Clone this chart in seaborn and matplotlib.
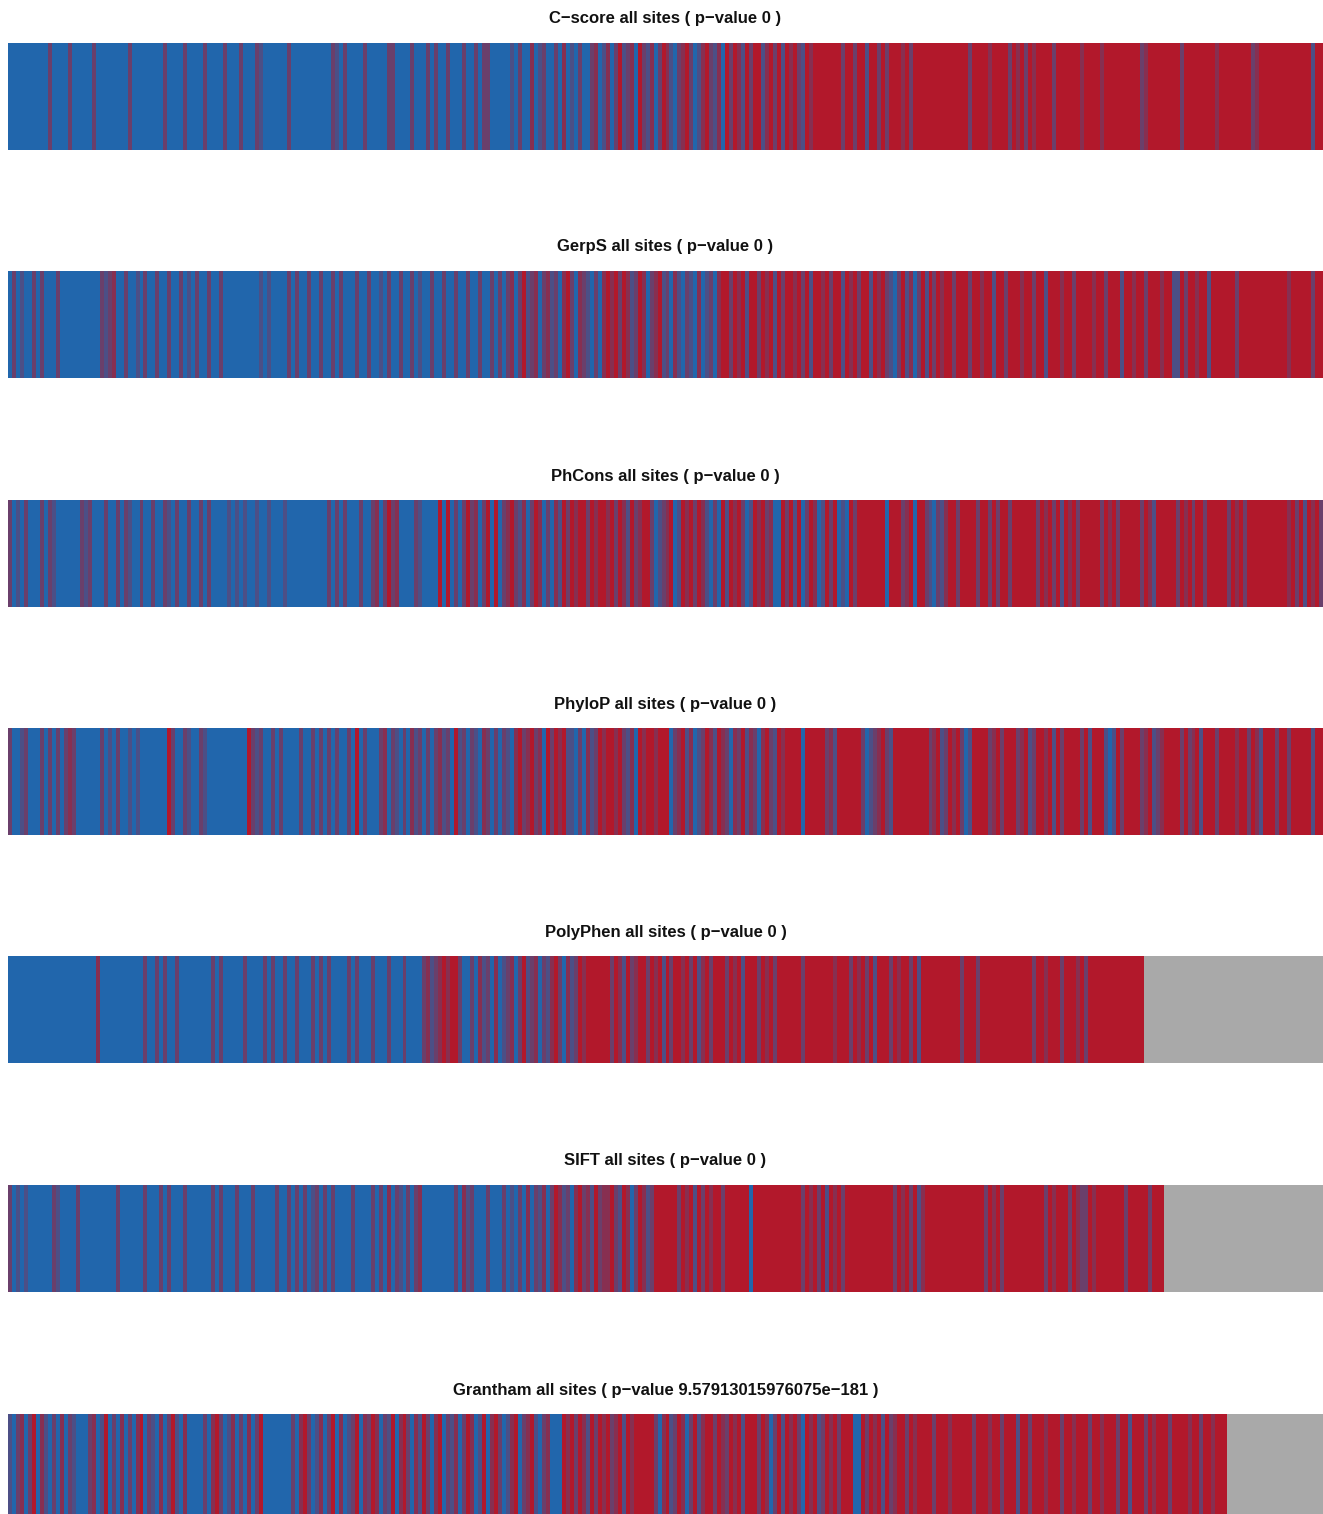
import numpy as np
import pandas as pd
import matplotlib
matplotlib.use("Agg")
import matplotlib.pyplot as plt
import seaborn as sns
from matplotlib.colors import LinearSegmentedColormap

# ---------------- data (one character per site, sorted by score) ----------------
# B = benign call, R = pathogenic call, q/p/s = thin mixed lines (blue->red),
# G = no score available (grey)
titles = [
    "C\u2212score all sites ( p\u2212value 0 )",
    "GerpS all sites ( p\u2212value 0 )",
    "PhCons all sites ( p\u2212value 0 )",
    "PhyloP all sites ( p\u2212value 0 )",
    "PolyPhen all sites ( p\u2212value 0 )",
    "SIFT all sites ( p\u2212value 0 )",
    "Grantham all sites ( p\u2212value 9.57913015976075e\u2212181 )",
]

cscore_calls = [
    "BBBBBBBBBBpBBBBpBBBBBpBBBBBBBB",
    "pBBBBBBBBpBBBBpBBBBpBBBBpBBBpB",
    "BBpqBBBBBBpBBBBBBBBBBpqBpBBBBp",
    "BBBBBppBBBBpBBBpBpBBpBBBpBBpBp",
    "pBBBBBqBpBBsBqpBBpBsBqBpBBpsBq",
    "sBpRqpsBRpqsBpRsqBpsRpBqsRpqsB",
    "RpRsqRpRRqsRpRqRsRpqRsRRRRRRRp",
    "RRpRRqRRpRpRRRsRpRRRRRRRRRRRRR",
    "RpRRRRsRRRRpRsRpRsRRRRpRRRRRRs",
    "RRRRsRRRRRRRRRpsRRRRRRRRpRRRRR",
    "RRRsRRRRRRRRpsRRRRRRRRRRRRRqRR",
]

gerps_calls = [
    "BpBqBBpBpBBBpBBBBBBBBBBpqpsBBp",
    "BBqBpBBpBBpBBpBqBpBBpBBpBBBBBB",
    "BBBqBqBBBBpBpBBpBBpBBpBpBBBpBB",
    "pBBqBpBBpBBpBqBBpBBpBBpBBpBBpB",
    "BpBpBpsBpRqpsBpsqpBsRpBspqBpBs",
    "RsRpRsqpRsBpsRqpBsqBpqBsBqpBsR",
    "RpRsRqRRpRsRqRpRRsRpRqRRsRpRRq",
    "RsRpRRqRsRpqBpRqsBpRqRpRsRRpRR",
    "RpRRsRRqRRpRRRsRRpRRqRRRsRRpRR",
    "RRsRRpRRRqRRsRRpRRRsRRqqRpRRsR",
    "RqRRRRRRpRRRRRRRRRRRRsRRRRRpRR",
]

phcons_calls = [
    "pBqBpBBBpBpqBBBBBBpqpBBBpBBpBp",
    "qBBpBBpBBpqBpBBpBBpBpBBBBqBqBq",
    "BBqBBqBBBqBBBBBBBBBBpBpBpBBBpB",
    "BpsBpRpsBBBBpqBBBBRBRBpBpRpsBp",
    "RBRBpsRpqsBpRsBpBsqRpRsRRpRsRR",
    "sRpRsqRpsRRpBqpsRBqRsRpRsqBpBR",
    "qRsRpBqRsRpsBBRpRqRBpRsBqRpRBq",
    "BRpRRRRRRRBRRRpsRBRRpqBpqsRRpR",
    "RRRpRRpRpRRpRRRRRRpRsRpRqRsRpR",
    "RRRRpRsRpRRRRRpRsqRRRRRpRsRpRR",
    "pRRRRRpRsRpRRRRRRRRRRsRpRqRsRp",
]

phylop_calls = [
    "pBBqpBBBpBpBpBpspBBBBBBpBqBpBB",
    "qBqBBBBBBBRpBBpqBBpqBBBBBBBBBB",
    "RpqpBBpBpBBBBpBBpBpBpBpBBpBRBp",
    "BBBpsBpqBpBsqpBpBpsqpBRqpBpqBs",
    "pBpBpqBsRpsRpsBRpRsRqqBpBsqpRs",
    "RRsRpqsBRsRRsRRRBpsRqsBqpRsqRs",
    "pBspRqspBsRpqRsRRRRBRRRRRpsqRR",
    "RRRRpBqpsRpqRRRRRRRRRpsRqpRsRp",
    "BqRRRRpsRpRRRpsRqpRRsRqRpRRRRp",
    "RqRRRqBqRpRRRRpsRqpsRRRRpRpsRq",
    "RRRpRRRRsRRpRsqRRRpRRpRRRRRqRR",
]

polyphen_calls = [
    "BBBBBBBBBB" "BBBBBBBBBB" "BB" "s" "BBBBBBB",
    "BBBBpBBpBpBBpBBBBBBBBpBpBBBBBp",
    "BBBBpBpBBpBBpBBBpBpBpBBBBpBpBB",
    "BpBBBpBBBpBBBBpsqpsRsRRpBBpBsq",
    "pBsBqpsBpRqpsBpqsRpBsqpRsRRRRR",
    "RpRsqRpsRRpRsRqRpRRsRpRqsRpRRR",
    "pRsRqRRRpRsRpRRRRRRpRRRRRRRsRR",
    "RpRsRpRqRRRpRsRRpRqRRRRRRRRRRp",
    "RRRp" "RRRRRRRRRRRRR" "p" "RR" "s" "RRR" "p" "RRR" "s" "R",
    "p" "RRRRRRRRRRRRRR" "GGGGGGGGGGGGGGG",
    "GGGGGGGGGGGGGGGGGGGGGGGGGGGGGG",
]

sift_calls = [
    "pBqBqBBBBBBpqBBBBpBBBBBBBBBpBB",
    "BBBBpBBBpBpBBBpBBBBBBpBpBBBpBB",
    "BpBBBBBpBBpBpBpBqpBpBpBBBBpBBB",
    "BpBpBsBpqBpBpsBBBBBBBBpBsqpBBB",
    "pBBBpBqBpBsBpqsBpRsqpBsRpsqRps",
    "sRpqRsBpRsqpRRRRRRpRsRqRpRsRRp",
    "RRRRRRBRRRRRRRRRRRRpRsRpRqRsRp",
    "RRRRRRRRRRRRpRsRpRqsRRRRRRRRRR",
    "RRRRRpRsRpRRRRRRRRRRpRsRRRpRsp",
    "pRsRRRRRRRpRRRRRpRRRGGGGGGGGGG",
    "GGGGGGGGGGGGGGGGGGGGGGGGGGGGGG",
]

grantham_calls = [
    "qBpsBpRBsqBpBsBpqBBBpsBqRBpBsB",
    "pBsRBpqBsBpRqBsBBBBpBsRpBqsBpB",
    "sBpRBBBBBBBpBsRpBqsBpRBsBqpRBs",
    "pRsBpqRBsRpBsqRpBsRBpqsBpRsBqR",
    "BsRpBqsRBpsRqBpsBBBRsRpRsqRpRs",
    "RpsRqRsRRRRRpBsRqpRsBpRqsRRpRs",
    "pRsRqRRRpRsBpRqRsRpBRsRqpRsRpR",
    "RRBBRpRsRqRpsRRpRsRRRRpRRRsRRR",
    "RRpRRRsRRpRRRqRRpRRRsRRRpRRsRR",
    "RpRRsRRRpRRqRRRpRsRRRpRRRRsRRp",
    "RRsRRRGGGGGGGGGGGGGGGGGGGGGGGG",
]

code_values = {"B": 0.0, "q": 0.3, "p": 0.5, "s": 0.7, "R": 1.0, "G": np.nan}

panels = [cscore_calls, gerps_calls, phcons_calls, phylop_calls,
          polyphen_calls, sift_calls, grantham_calls]

# ---------------- style ----------------
sns.set_style("white")
plt.rcParams["font.family"] = ["Liberation Sans", "DejaVu Sans"]

BLUE = "#2166ac"
RED = "#b2182b"
GREY = "#a9a9a9"
cmap = LinearSegmentedColormap.from_list("calls", [BLUE, RED])

W, H = 1323, 1514
fig = plt.figure(figsize=(W / 100, H / 100), dpi=100)
fig.patch.set_facecolor("white")

left_px, width_px = 8, 1315
strip_tops = [43, 271, 500, 728, 956, 1185, 1414]
strip_h = 107

for title, calls, top in zip(titles, panels, strip_tops):
    seq = "".join(calls)
    vals = np.array([code_values[c] for c in seq], dtype=float).reshape(1, -1)
    df = pd.DataFrame(vals)
    ax = fig.add_axes([left_px / W, 1 - (top + strip_h) / H,
                       width_px / W, strip_h / H])
    ax.set_facecolor(GREY)
    sns.heatmap(df, ax=ax, cmap=cmap, vmin=0, vmax=1, cbar=False,
                xticklabels=False, yticklabels=False)
    ax.set_xlabel("")
    ax.set_ylabel("")
    ax.text(0.5, 1 + 24 / strip_h, title, transform=ax.transAxes,
            ha="center", va="center", fontsize=12, fontweight="bold",
            color="#111111")

fig.savefig("out.png", dpi=100, facecolor="white")
